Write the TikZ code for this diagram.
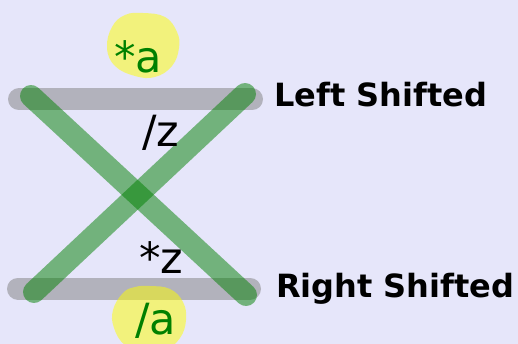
\documentclass[tikz,border=0pt]{standalone}
\usepackage{fontspec}
\setmainfont{DejaVu Sans}
\definecolor{bgc}{RGB}{230,230,250}
\definecolor{grn}{RGB}{0,128,0}
\definecolor{gry}{RGB}{128,128,128}
\definecolor{ylw}{RGB}{255,255,0}
\begin{document}
\begin{tikzpicture}[x=1pt,y=-1pt,
  bar/.style={line width=22pt,line cap=round,draw=gry,draw opacity=0.5},
  cross/.style={line width=22pt,line cap=round,draw=grn,draw opacity=0.5},
  blob/.style={fill=ylw,fill opacity=0.5,draw=none},
  lab/.style={inner sep=0pt,anchor=base west,font=\fontsize{43}{50}\selectfont},
  side/.style={inner sep=0pt,anchor=base west,font=\fontsize{32}{38}\selectfont\bfseries}]
\fill[bgc] (0,0) rectangle (518,344);
\useasboundingbox (0,0) rectangle (518,344);
\clip (0,0) rectangle (518,344);
% coordinates
\coordinate (tl) at (19,99.5);
\coordinate (tr) at (252,99.5);
\coordinate (bl) at (18,288.5);
\coordinate (br) at (250,288.5);
\coordinate (a1) at (31,96);
\coordinate (a2) at (246,295);
\coordinate (b1) at (245,94);
\coordinate (b2) at (34,292);
% gray bars
\draw[bar] (tl) -- (tr);
\draw[bar] (bl) -- (br);
% green cross
\draw[cross] (a1) -- (a2);
\draw[cross] (b1) -- (b2);
% yellow blobs
\fill[blob] plot[smooth cycle,tension=0.7] coordinates {(143,13) (165,17) (177,32) (179,48) (172,66) (155,77) (135,76) (115,66) (107,48) (112,27) (125,15)};
\fill[blob] plot[smooth cycle,tension=0.7] coordinates {(150,286) (170,289) (183,302) (186,320) (180,338) (165,350) (145,352) (125,345) (114,328) (113,310) (123,293) (135,287)};
% labels
\node[lab,text=grn] (ta) at (114,73) {*a};
\node[lab] (tz) at (142,147) {/z};
\node[lab] (bz) at (139,273) {*z};
\node[lab,text=grn] (ba) at (135,334) {/a};
\node[side] (ls) at (274,107) {Left Shifted};
\node[side] (rs) at (276,297) {Right Shifted};
\end{tikzpicture}
\end{document}
